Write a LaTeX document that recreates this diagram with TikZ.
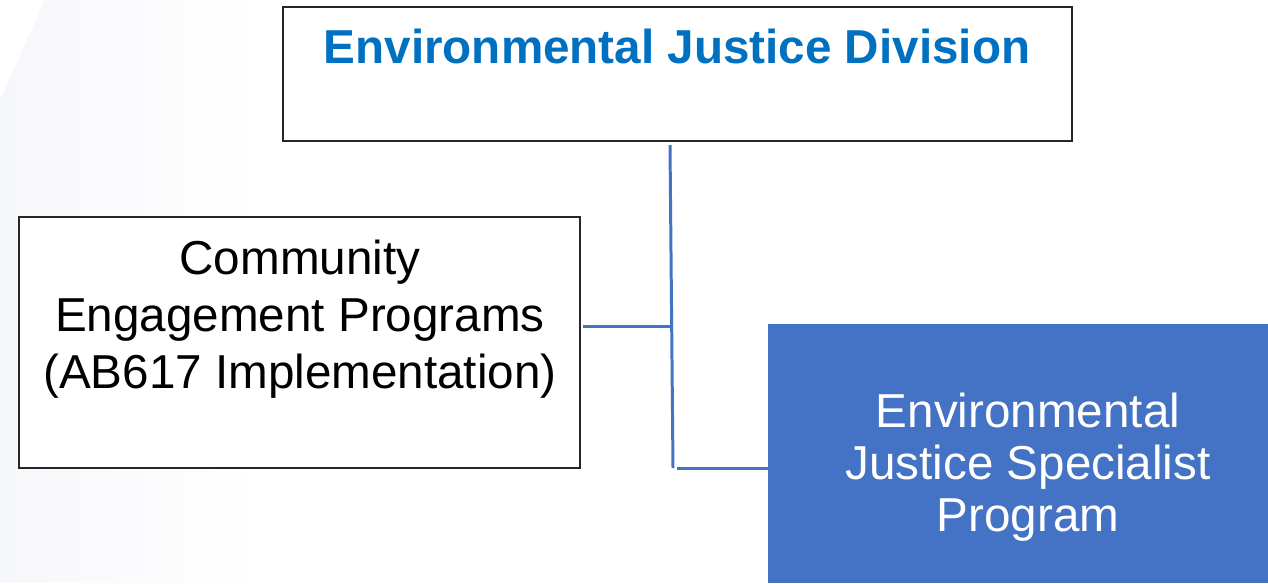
\documentclass[tikz,border=0pt]{standalone}
\usepackage{fontspec}
\setmainfont{Liberation Sans}
\usetikzlibrary{positioning}
\definecolor{titleblue}{RGB}{0,112,192}
\definecolor{unitblue}{RGB}{68,114,196}
\definecolor{backdrop}{RGB}{246,247,250}

\begin{document}
\begin{tikzpicture}[x=0.02cm,y=-0.02cm,
    unitbox/.style={draw=black!85,line width=0.8pt,fill=white,inner sep=0pt},
    link/.style={draw=unitblue,line width=1.7pt},
    boxtext/.style={align=center,inner sep=0pt,
      font=\fontsize{27.1}{32.4}\selectfont}]
  \useasboundingbox (0,0) rectangle (1268,583);
  \fill[white] (0,0) rectangle (1268,583);

  % faint backdrop on the left
  \shade[left color=backdrop,right color=white]
    (45,0) -- (260,0) -- (260,583) -- (0,583) -- (0,100) -- cycle;

  % division box
  \node [unitbox,minimum width=15.78cm,minimum height=2.68cm]
    (division) at (677.5,74) {};
  \node [boxtext,font=\bfseries\fontsize{27.1}{32.4}\selectfont,
    text=titleblue] (divtitle) at (677,46) {Environmental Justice Division};

  % community engagement box
  \node [unitbox,minimum width=11.22cm,minimum height=5.02cm]
    (community) at (299.5,342.5) {};
  \node [boxtext] (commtext) at (300,319)
    {Community\\Engagement Programs\\(AB617 Implementation)};

  % specialist box
  \node [draw=none,fill=unitblue,inner sep=0pt,
    minimum width=10cm,minimum height=5.18cm]
    (specialist) at (1018,453.5) {};
  \node [boxtext,text=white,font=\fontsize{27.1}{29.6}\selectfont]
    (spectext) at (1028,467)
    {Environmental\\Justice Specialist\\Program};

  % connectors
  \coordinate (trunktop) at (670,145);
  \coordinate (trunkmid) at (671.5,326);
  \coordinate (trunkbot) at (673,468);
  \coordinate (specleft) at (677,468);

  \draw [link] (trunktop) -- (trunkbot);
  \draw [link] (community.east |- trunkmid) ++(2,0) -- (trunkmid);
  \draw [link] (specleft) -- (specialist.west |- specleft);
\end{tikzpicture}
\end{document}
